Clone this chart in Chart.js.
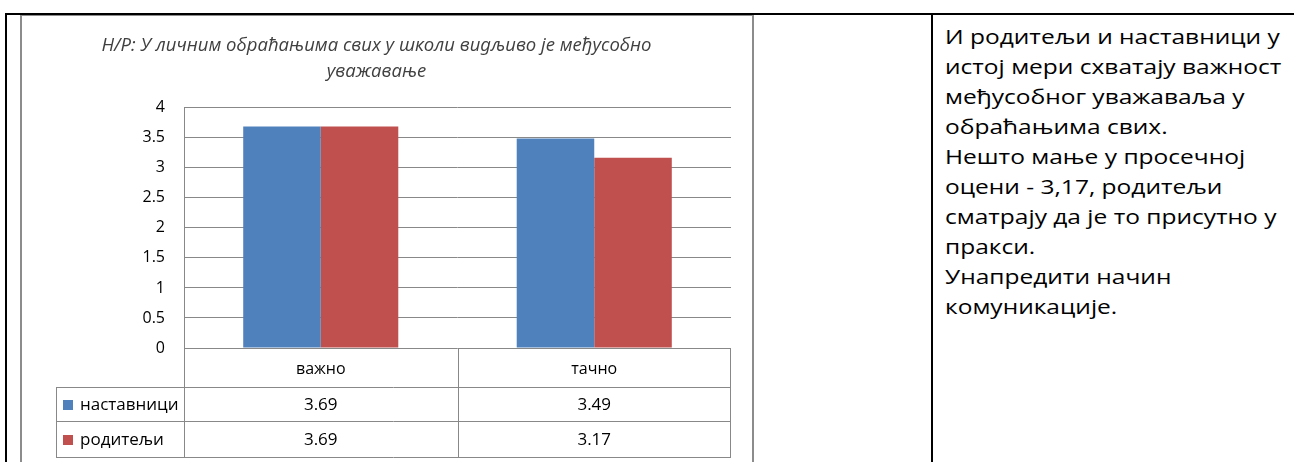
<!DOCTYPE html>
<html lang="sr">
<head>
  <meta charset="UTF-8">
  <title>Н/Р: међусобно уважавање</title>
  <script src="https://cdn.jsdelivr.net/npm/chart.js"></script>
  <style>
    html, body { margin: 0; padding: 0; background: #fff; }
    body { width: 1294px; height: 462px; position: relative; overflow: hidden; font-family: 'Open Sans', sans-serif; }
    .line { position: absolute; background: #000; }
    .frame { position: absolute; left: 20px; top: 15px; width: 730px; height: 460px;
             border-left: 2px solid #8c8c8c; border-top: 1px solid #8c8c8c; border-right: 2px solid #8c8c8c; }
    #wrap { position: absolute; left: 22px; top: 16px; width: 729px; height: 446px; }
    .note { position: absolute; left: 945px; top: 22px; font-size: 20px; line-height: 30px; color: #000;
            white-space: nowrap; transform: scaleX(1.225); transform-origin: 0 0; }
  </style>
</head>
<body>
  <div class="line" style="left:5px; top:13px; width:1289px; height:2px;"></div>
  <div class="line" style="left:5px; top:13px; width:2px; height:449px;"></div>
  <div class="line" style="left:931px; top:13px; width:2px; height:449px;"></div>
  <div class="frame"></div>
  <div id="wrap"><canvas id="chart" width="729" height="446"></canvas></div>
  <div class="note">
    И родитељи и наставници у<br>
    истој мери схватају важност<br>
    међусобног уважаваља у<br>
    обраћањима свих.<br>
    Нешто мање у просечној<br>
    оцени - 3,17, родитељи<br>
    сматрају да је то присутно у<br>
    пракси.<br>
    Унапредити начин<br>
    комуникације.
  </div>
  <script>
    const categories = ['важно', 'тачно'];
    const teachers = [3.69, 3.49];
    const parents = [3.69, 3.17];
    const seriesNames = ['наставници', 'родитељи'];
    const seriesColors = ['#4f81bd', '#c0504d'];
    const titleLines = ['Н/Р: У личним обраћањима свих у школи видљиво је међусобно', 'уважавање'];

    const gridColor = '#888888';

    // draws the data table under the x axis, like the Excel chart
    const dataTable = {
      id: 'dataTable',
      afterDraw(chart) {
        const c = chart.ctx;
        const x = chart.scales.x;
        const area = chart.chartArea;
        const rowTop = [area.bottom + 39, area.bottom + 73];
        const bottom = area.bottom + 109;
        const left = 34;
        const mid = (x.getPixelForTick(0) + x.getPixelForTick(1)) / 2;
        c.save();
        c.strokeStyle = gridColor;
        c.lineWidth = 1;
        c.beginPath();
        // horizontals
        [rowTop[0], rowTop[1], bottom].forEach(y => {
          c.moveTo(left, Math.round(y) + 0.5);
          c.lineTo(area.right, Math.round(y) + 0.5);
        });
        // verticals
        c.moveTo(left + 0.5, rowTop[0]); c.lineTo(left + 0.5, bottom);
        c.moveTo(Math.round(area.left) + 0.5, area.top); c.lineTo(Math.round(area.left) + 0.5, bottom);
        c.moveTo(Math.round(mid) + 0.5, area.bottom); c.lineTo(Math.round(mid) + 0.5, bottom);
        c.moveTo(Math.round(area.right) - 0.5, area.bottom); c.lineTo(Math.round(area.right) - 0.5, bottom);
        c.stroke();

        c.font = '17px "Open Sans", sans-serif';
        c.textBaseline = 'middle';
        chart.data.datasets.forEach((ds, i) => {
          const yc = (i === 0 ? (rowTop[0] + rowTop[1]) / 2 : (rowTop[1] + bottom) / 2) + 1;
          c.fillStyle = ds.backgroundColor;
          c.fillRect(left + 7, yc - 5, 10, 10);
          c.fillStyle = '#000';
          c.textAlign = 'left';
          c.fillText(ds.label, left + 24, yc);
          c.textAlign = 'center';
          ds.data.forEach((v, j) => {
            c.fillText(v.toFixed(2), x.getPixelForTick(j), yc);
          });
        });
        c.restore();
      }
    };

    new Chart(document.getElementById('chart'), {
      type: 'bar',
      data: {
        labels: categories,
        datasets: [
          { label: seriesNames[0], data: teachers, backgroundColor: seriesColors[0] },
          { label: seriesNames[1], data: parents, backgroundColor: seriesColors[1] }
        ]
      },
      options: {
        responsive: false,
        animation: false,
        layout: { padding: { left: 0, right: 20, top: 0, bottom: 0 } },
        datasets: { bar: { barPercentage: 1, categoryPercentage: 0.567 } },
        plugins: {
          legend: { display: false },
          tooltip: { enabled: false },
          title: {
            display: true,
            text: titleLines,
            color: '#404040',
            font: { family: '"Open Sans", sans-serif', size: 18.5, style: 'italic', weight: 'normal', lineHeight: 1.4 },
            padding: { top: 17, bottom: 23 }
          }
        },
        scales: {
          x: {
            grid: { display: false },
            border: { display: false },
            ticks: { color: '#000', font: { family: '"Open Sans", sans-serif', size: 16 }, padding: 4 },
            afterFit(s) { s.height = 114; }
          },
          y: {
            min: 0, max: 4,
            ticks: { stepSize: 0.5, color: '#000', font: { family: '"Open Sans", sans-serif', size: 16 }, padding: 19,
                     callback: v => String(v) },
            grid: { color: gridColor, drawTicks: false },
            border: { display: false },
            afterFit(s) { s.width = 162; }
          }
        }
      },
      plugins: [dataTable]
    });
  </script>
</body>
</html>
